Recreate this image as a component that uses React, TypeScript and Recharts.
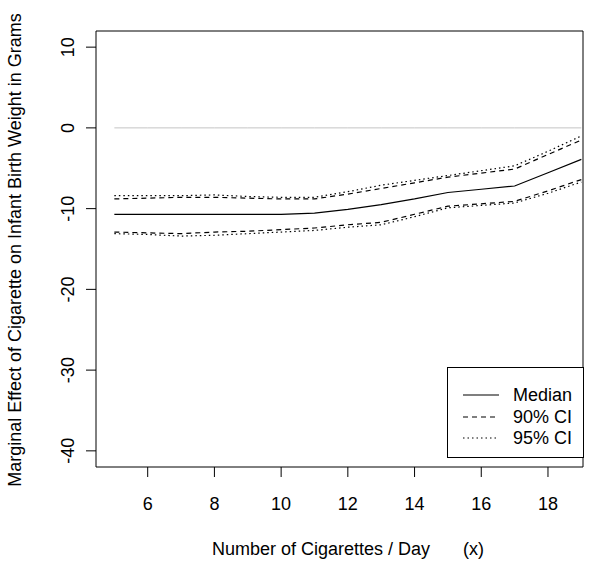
import React from 'react';
import { LineChart, Line, XAxis, YAxis, ReferenceArea, Legend } from 'recharts';

const X_VALUES = [5, 6, 7, 8, 9, 10, 11, 12, 13, 14, 15, 16, 17, 18, 19];
const MEDIAN = [-10.7, -10.7, -10.7, -10.7, -10.7, -10.7, -10.55, -10.1, -9.5, -8.8, -8.0, -7.6, -7.2, -5.55, -3.9];
const CI90_UPPER = [-8.8, -8.7, -8.6, -8.6, -8.7, -8.8, -8.8, -8.2, -7.5, -6.8, -6.1, -5.6, -5.1, -3.3, -1.5];
const CI95_UPPER = [-8.4, -8.4, -8.4, -8.3, -8.5, -8.6, -8.6, -7.9, -7.1, -6.5, -5.9, -5.3, -4.7, -2.9, -1.0];
const CI90_LOWER = [-12.9, -13.0, -13.1, -12.9, -12.8, -12.6, -12.4, -12.0, -11.7, -10.7, -9.7, -9.4, -9.1, -7.8, -6.4];
const CI95_LOWER = [-13.1, -13.2, -13.4, -13.3, -13.1, -12.9, -12.7, -12.3, -12.0, -11.0, -9.9, -9.6, -9.3, -8.1, -6.7];
const ZERO_LINE = [0, 0, 0, 0, 0, 0, 0, 0, 0, 0, 0, 0, 0, 0, 0];

const X_TICKS = [6, 8, 10, 12, 14, 16, 18];
const Y_TICKS = [-40, -30, -20, -10, 0, 10];
const X_DOMAIN: [number, number] = [4.45, 19.05];
const Y_DOMAIN: [number, number] = [-42, 12];

const X_TITLE_MAIN = 'Number of Cigarettes / Day';
const X_TITLE_SUFFIX = '(x)';
const Y_TITLE = 'Marginal Effect of Cigarette on Infant Birth Weight in Grams';

const LEGEND_ITEMS = [
  { label: 'Median', dash: undefined as string | undefined },
  { label: '90% CI', dash: '5 4' },
  { label: '95% CI', dash: '1.5 3' },
];

const FONT = '"Liberation Sans", Arial, Helvetica, sans-serif';
const FS = 18;

const data = X_VALUES.map((x, i) => ({
  x,
  median: MEDIAN[i],
  u90: CI90_UPPER[i],
  l90: CI90_LOWER[i],
  u95: CI95_UPPER[i],
  l95: CI95_LOWER[i],
  zero: ZERO_LINE[i],
}));

const XTick = (props: any) => {
  const { x, y, payload } = props;
  return (
    <text x={x} y={y} dy={31} textAnchor="middle" fontSize={FS} fontFamily={FONT} fill="#000">
      {payload.value}
    </text>
  );
};

const YTick = (props: any) => {
  const { x, y, payload } = props;
  const tx = x - 10;
  return (
    <text
      x={tx}
      y={y}
      textAnchor="middle"
      fontSize={FS}
      fontFamily={FONT}
      fill="#000"
      transform={`rotate(-90, ${tx}, ${y})`}
    >
      {payload.value}
    </text>
  );
};

const XTitle = (props: any) => {
  const vb = props.viewBox || {};
  const y = vb.y + 88;
  return (
    <g>
      <text x={vb.x + 116} y={y} textAnchor="start" fontSize={FS} fontFamily={FONT} fill="#000">
        {X_TITLE_MAIN}
      </text>
      <text x={vb.x + 367} y={y} textAnchor="start" fontSize={FS} fontFamily={FONT} fill="#000">
        {X_TITLE_SUFFIX}
      </text>
    </g>
  );
};

const YTitle = (props: any) => {
  const vb = props.viewBox || {};
  const x = 21;
  const y = vb.y + vb.height / 2 + 1;
  return (
    <text
      x={x}
      y={y}
      textAnchor="middle"
      fontSize={FS}
      fontFamily={FONT}
      fill="#000"
      transform={`rotate(-90, ${x}, ${y})`}
    >
      {Y_TITLE}
    </text>
  );
};

const LegendBox = () => (
  <div
    style={{
      width: 137,
      height: 91,
      boxSizing: 'border-box',
      border: '1px solid #000',
      background: '#fff',
      position: 'relative',
      fontFamily: FONT,
      fontSize: FS,
      color: '#000',
    }}
  >
    {LEGEND_ITEMS.map((it, i) => (
      <div key={it.label} style={{ position: 'absolute', left: 0, top: 16 + i * 21.7, height: 22, width: 135 }}>
        <svg width={40} height={22} style={{ position: 'absolute', left: 15, top: 0 }}>
          <line x1={0} y1={11} x2={36} y2={11} stroke="#000" strokeWidth={1.2} strokeDasharray={it.dash} />
        </svg>
        <span style={{ position: 'absolute', left: 65, top: 0, lineHeight: '22px', whiteSpace: 'nowrap' }}>{it.label}</span>
      </div>
    ))}
  </div>
);

export default function App() {
  return (
    <div style={{ position: 'absolute', left: 0, top: 0, background: '#fff' }}>
      <LineChart width={591} height={563} data={data} margin={{ top: 31, right: 8, bottom: 36, left: 36 }}>
        <XAxis
          dataKey="x"
          type="number"
          domain={X_DOMAIN}
          ticks={X_TICKS}
          allowDataOverflow
          axisLine={false}
          tickLine={{ stroke: '#000', strokeWidth: 1 }}
          tickSize={10}
          height={60}
          tick={<XTick />}
          interval={0}
          label={<XTitle />}
        />
        <YAxis
          type="number"
          domain={Y_DOMAIN}
          ticks={Y_TICKS}
          allowDataOverflow
          axisLine={false}
          tickLine={{ stroke: '#000', strokeWidth: 1 }}
          tickSize={10}
          width={60}
          tick={<YTick />}
          interval={0}
          label={<YTitle />}
        />
        <ReferenceArea
          x1={X_DOMAIN[0]}
          x2={X_DOMAIN[1]}
          y1={Y_DOMAIN[0]}
          y2={Y_DOMAIN[1]}
          fill="none"
          fillOpacity={0}
          stroke="#000"
          strokeWidth={1}
          ifOverflow="visible"
        />
        <Line dataKey="zero" stroke="#c4c4c4" strokeWidth={1} dot={false} isAnimationActive={false} legendType="none" />
        <Line dataKey="u95" stroke="#000" strokeWidth={1.2} strokeDasharray="1.5 3" dot={false} isAnimationActive={false} />
        <Line dataKey="l95" stroke="#000" strokeWidth={1.2} strokeDasharray="1.5 3" dot={false} isAnimationActive={false} />
        <Line dataKey="u90" stroke="#000" strokeWidth={1.2} strokeDasharray="5 4" dot={false} isAnimationActive={false} />
        <Line dataKey="l90" stroke="#000" strokeWidth={1.2} strokeDasharray="5 4" dot={false} isAnimationActive={false} />
        <Line dataKey="median" stroke="#000" strokeWidth={1.2} dot={false} isAnimationActive={false} />
        <Legend
          layout="vertical"
          align="center"
          verticalAlign="middle"
          wrapperStyle={{ left: 447, top: 367, width: 137, height: 91 }}
          content={<LegendBox />}
        />
      </LineChart>
    </div>
  );
}
